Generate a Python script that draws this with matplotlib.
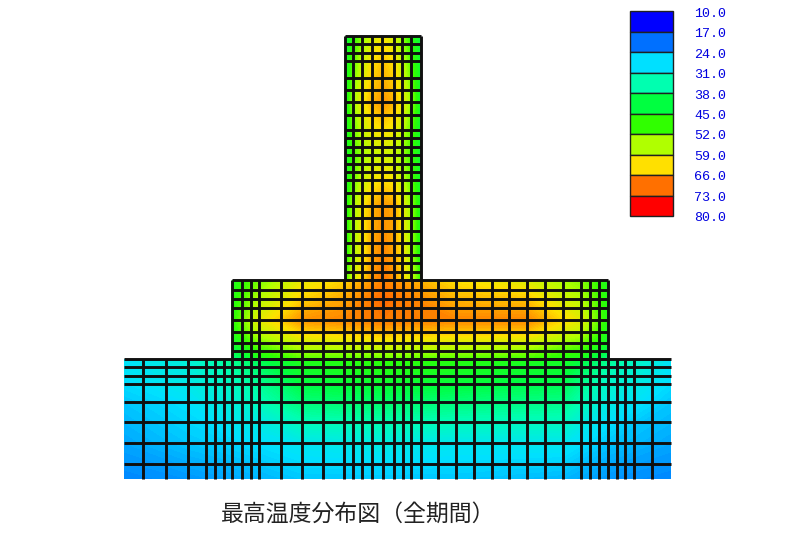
import numpy as np
import matplotlib
matplotlib.use("Agg")
import matplotlib.pyplot as plt
from matplotlib.colors import LinearSegmentedColormap

# legend
legend_values = [10.0, 17.0, 24.0, 31.0, 38.0, 45.0, 52.0, 59.0, 66.0, 73.0, 80.0]
legend_colors = ['#0000ff', '#0070ff', '#00e0ff', '#00ffb0', '#00ff40',
                 '#30ff00', '#b0ff00', '#ffe000', '#ff7000', '#ff0000']

# mesh lines, picture coordinates
stem_x = [345, 353, 362, 372, 382, 394, 402, 411, 421]
stem_y = [36, 44, 53, 61, 78, 90, 102, 115, 130, 138, 147, 155, 164, 172, 180,
          193, 206, 218, 231, 243, 255, 263, 272, 280]
block_x = [232, 242, 251, 259, 281, 302, 323, 344, 353, 362, 372, 383, 394, 403,
           412, 421, 438, 456, 474, 492, 509, 527, 545, 563, 581, 590, 599, 608]
block_y = [280, 290, 299, 308, 320, 332, 343, 351, 359]
base_x = [143, 166, 188, 206, 215, 224, 232, 242, 251, 259, 281, 302, 323, 344, 353,
          362, 372, 383, 394, 403, 411, 421, 438, 456, 474, 492, 509, 527, 545, 563,
          581, 590, 599, 608, 617, 625, 634, 652]
base_y = [359, 367, 376, 384, 402, 422, 443, 464]
base_left, base_right, base_bottom = 124, 671, 479

stem_tx = [345, 353, 362, 372, 383, 394, 402, 411, 421]
stem_ty = [36, 61, 102, 155, 206, 255, 280]
stem_t = [[42, 47, 53, 58, 61, 58, 53, 47, 42],
          [43, 50, 57, 62, 64, 62, 57, 50, 43],
          [43, 54, 61, 65, 67, 65, 61, 54, 43],
          [43, 49, 54, 57, 58, 57, 54, 49, 43],
          [44, 54, 61, 65, 67, 66, 61, 54, 44],
          [45, 55, 61, 66, 68, 66, 62, 55, 45],
          [48, 58, 63, 67, 69, 67, 63, 58, 48]]

block_tx = [232, 259, 300, 344, 383, 456, 527, 581, 608]
block_ty = [280, 299, 320, 332, 343, 359]
block_t = [[45, 52, 60, 63, 68, 62, 59, 53, 45],
           [46, 56, 63, 66, 70, 65, 64, 56, 46],
           [47, 60, 67, 68, 69, 68, 68, 60, 46],
           [46, 57, 63, 64, 65, 64, 64, 57, 45],
           [44, 52, 58, 59, 60, 59, 58, 52, 44],
           [37, 45, 50, 50, 51, 50, 49, 45, 37]]

base_tx = [124, 188, 232, 300, 383, 456, 563, 608, 671]
base_ty = [359, 376, 402, 443, 479]
base_t = [[28, 31, 37, 46, 48, 47, 45, 37, 28],
          [28, 30, 34, 43, 45, 44, 42, 33, 28],
          [26, 28, 31, 38, 39, 38, 37, 30, 26],
          [24, 26, 27, 29, 30, 29, 29, 26, 24],
          [22, 23, 24, 26, 26, 26, 25, 23, 22]]

centers = [(a + b) / 2 for a, b in zip(legend_values[:-1], legend_values[1:])]
vmin, vmax = centers[0], centers[-1]
nodes = [(c - vmin) / (vmax - vmin) for c in centers]
cmap = LinearSegmentedColormap.from_list('temp', list(zip(nodes, legend_colors)))
levels = np.linspace(10, 80, 141)

fig = plt.figure(figsize=(8, 5.33), dpi=100)
ax = fig.add_axes([0, 0, 1, 1])
ax.set_xlim(0, 800)
ax.set_ylim(533, 0)
ax.axis('off')

for tx, ty, t in [(stem_tx, stem_ty, stem_t), (block_tx, block_ty, block_t), (base_tx, base_ty, base_t)]:
    ax.contourf(tx, ty, t, levels=levels, cmap=cmap, vmin=vmin, vmax=vmax,
                extend='both', antialiased=False)

lw = 2.1
ax.vlines(stem_x, stem_y[0], stem_y[-1], color='#101010', lw=lw)
ax.hlines(stem_y, stem_x[0], stem_x[-1], color='#101010', lw=lw)
ax.vlines(block_x, block_y[0], block_y[-1], color='#101010', lw=lw)
ax.hlines(block_y, block_x[0], block_x[-1], color='#101010', lw=lw)
ax.vlines(base_x, base_y[0], base_bottom, color='#101010', lw=lw)
ax.hlines(base_y, base_left, base_right, color='#101010', lw=lw)

# legend
lx0, lx1 = 630, 673
ly0, ly1 = 11, 216
step = (ly1 - ly0) / len(legend_colors)
for i, col in enumerate(legend_colors):
    ax.bar(lx0, step, width=lx1 - lx0, bottom=ly0 + i * step, align='edge',
           color=col, edgecolor='#202020', linewidth=1.0)
for i, val in enumerate(legend_values):
    ax.text(710, 14 + i * 20.4, "%.1f" % val, color='#0000e0', family='Liberation Mono',
            fontsize=9.6, ha='center', va='center')

ax.text(221, 514, "最高温度分布図（全期間）", family=['Noto Sans CJK JP', 'DejaVu Sans'],
        fontsize=16.5, color='#222222', ha='left', va='center')

fig.savefig('out.png', dpi=100)
